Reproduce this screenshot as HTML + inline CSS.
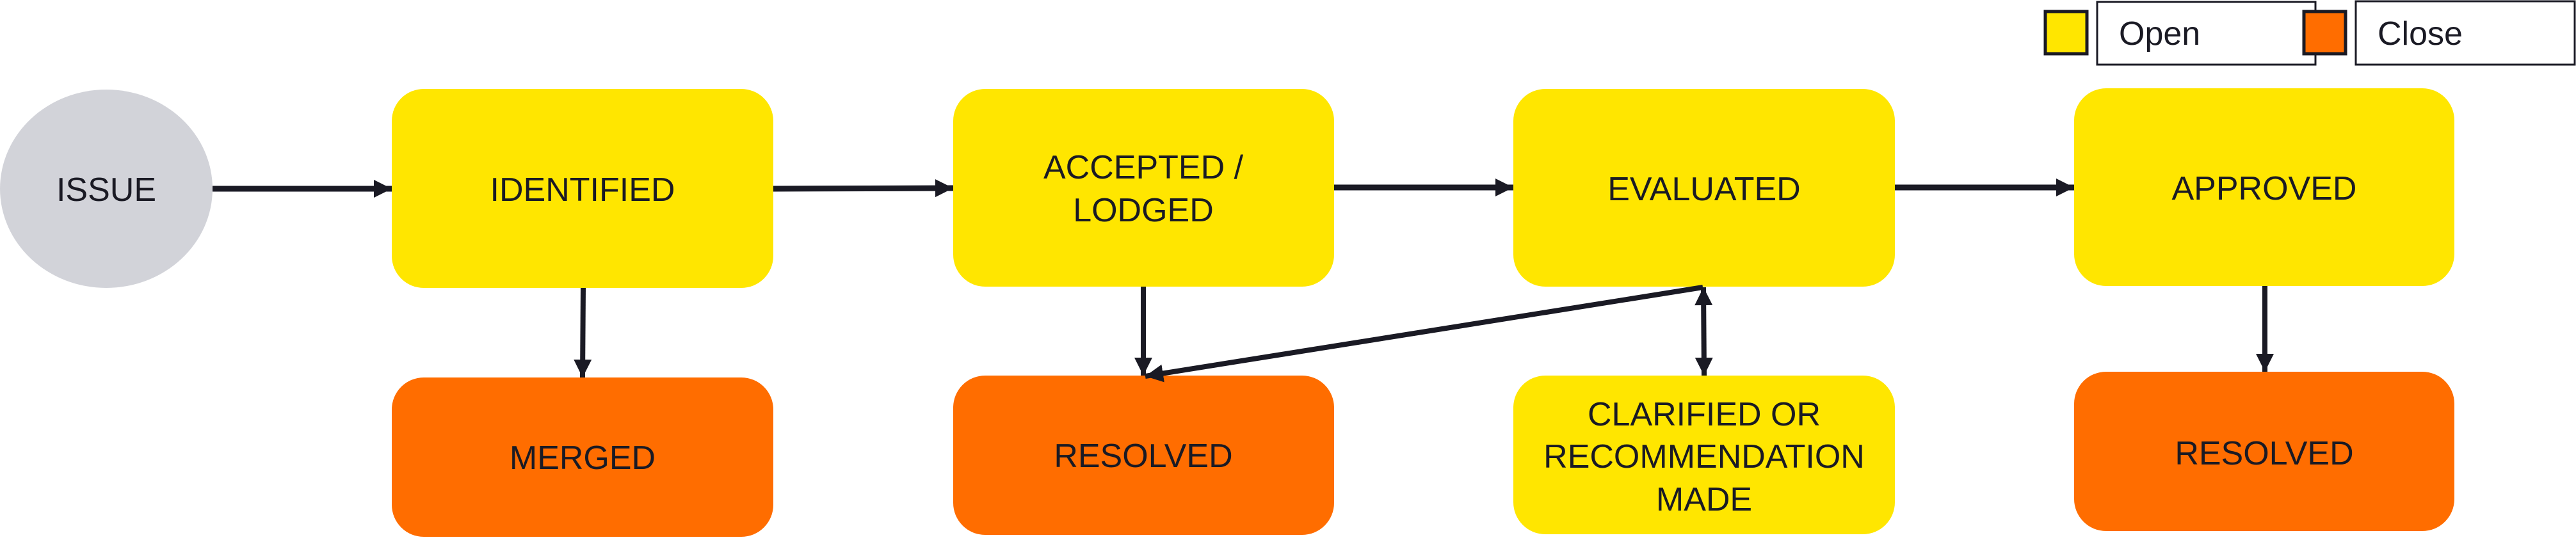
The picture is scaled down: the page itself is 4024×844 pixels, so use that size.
<!DOCTYPE html>
<html><head><meta charset="utf-8"><style>
html,body{margin:0;padding:0;background:#fff;}
svg{display:block;}
text{font-family:"Liberation Sans",sans-serif;fill:#1a1a24;}
</style></head><body>
<svg width="4024" height="844" viewBox="0 0 4024 844" xmlns="http://www.w3.org/2000/svg">
<defs>
<marker id="ah" markerWidth="30" markerHeight="30" refX="28" refY="14" orient="auto" markerUnits="userSpaceOnUse">
<path d="M0,0 L28,14 L0,28 Z" fill="#1a1a24"/>
</marker>
<marker id="as" markerWidth="30" markerHeight="30" refX="0" refY="14" orient="auto" markerUnits="userSpaceOnUse">
<path d="M28,0 L0,14 L28,28 Z" fill="#1a1a24"/>
</marker>
</defs>

<!-- Legend -->
<rect x="3195" y="18" width="65" height="66" fill="#ffe600" stroke="#1a1a24" stroke-width="5"/>
<rect x="3276" y="3" width="341" height="98" fill="#fff" stroke="#1a1a24" stroke-width="3"/>
<text x="3310" y="70" font-size="52">Open</text>
<rect x="3599" y="18" width="65" height="66" fill="#ff6d00" stroke="#1a1a24" stroke-width="5"/>
<rect x="3680" y="2" width="342" height="99" fill="#fff" stroke="#1a1a24" stroke-width="3"/>
<text x="3714" y="70" font-size="52">Close</text>

<!-- ISSUE -->
<ellipse cx="166" cy="295" rx="166" ry="155" fill="#d2d3d9"/>
<text x="166" y="314" font-size="52" text-anchor="middle">ISSUE</text>

<!-- Boxes -->
<rect x="612" y="139" width="596" height="311" rx="50" fill="#ffe600"/>
<text x="910" y="314" font-size="52" text-anchor="middle">IDENTIFIED</text>
<rect x="612" y="590" width="596" height="249" rx="50" fill="#ff6d00"/>
<text x="910" y="733" font-size="52" text-anchor="middle">MERGED</text>

<rect x="1489" y="139" width="595" height="309" rx="50" fill="#ffe600"/>
<text x="1786" y="279" font-size="52" text-anchor="middle">ACCEPTED /</text>
<text x="1786" y="346" font-size="52" text-anchor="middle">LODGED</text>
<rect x="1489" y="587" width="595" height="249" rx="50" fill="#ff6d00"/>
<text x="1786" y="730" font-size="52" text-anchor="middle">RESOLVED</text>

<rect x="2364" y="139" width="596" height="309" rx="50" fill="#ffe600"/>
<text x="2662" y="313" font-size="52" text-anchor="middle">EVALUATED</text>
<rect x="2364" y="587" width="596" height="248" rx="50" fill="#ffe600"/>
<text x="2662" y="665" font-size="52" text-anchor="middle">CLARIFIED OR</text>
<text x="2662" y="731" font-size="52" text-anchor="middle">RECOMMENDATION</text>
<text x="2662" y="798" font-size="52" text-anchor="middle">MADE</text>

<rect x="3240" y="138" width="594" height="309" rx="50" fill="#ffe600"/>
<text x="3537" y="312" font-size="52" text-anchor="middle">APPROVED</text>
<rect x="3240" y="581" width="594" height="249" rx="50" fill="#ff6d00"/>
<text x="3537" y="726" font-size="52" text-anchor="middle">RESOLVED</text>

<!-- Connectors -->
<g stroke="#1a1a24" fill="none">
<line x1="332" y1="295" x2="612" y2="295" stroke-width="9" marker-end="url(#ah)"/>
<line x1="1208" y1="295" x2="1489" y2="294" stroke-width="9" marker-end="url(#ah)"/>
<line x1="2084" y1="293" x2="2364" y2="293" stroke-width="9" marker-end="url(#ah)"/>
<line x1="2960" y1="293" x2="3240" y2="293" stroke-width="9" marker-end="url(#ah)"/>
<line x1="911" y1="450" x2="910" y2="590" stroke-width="8" marker-end="url(#ah)"/>
<line x1="1786" y1="448" x2="1786" y2="587" stroke-width="8" marker-end="url(#ah)"/>
<line x1="3538" y1="447" x2="3538" y2="581" stroke-width="8" marker-end="url(#ah)"/>
<line x1="2660" y1="449" x2="1789" y2="588" stroke-width="8" marker-end="url(#ah)"/>
<line x1="2661" y1="449" x2="2662" y2="587" stroke-width="8" marker-start="url(#as)" marker-end="url(#ah)"/>
</g>
</svg>
</body></html>
